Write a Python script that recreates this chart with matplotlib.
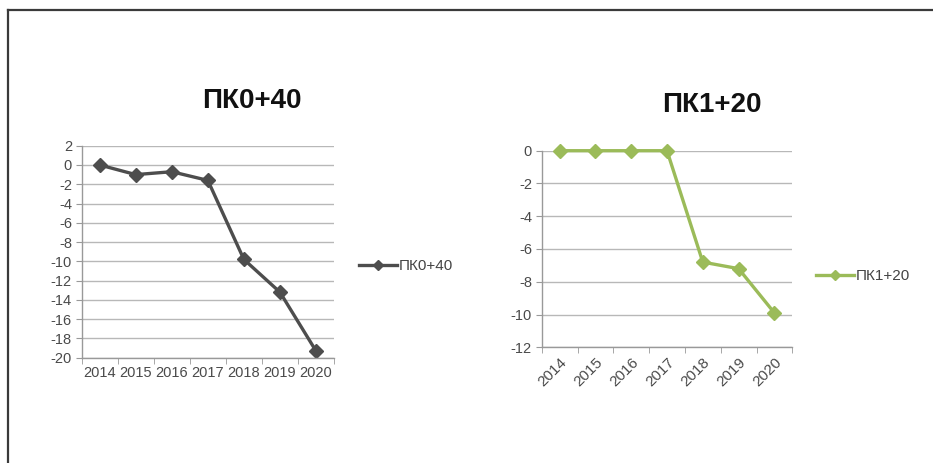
import matplotlib
matplotlib.use("Agg")
import matplotlib.pyplot as plt
from matplotlib.lines import Line2D
import numpy as np

plt.rcParams['font.family'] = ['Liberation Sans', 'DejaVu Sans']

years = ["2014", "2015", "2016", "2017", "2018", "2019", "2020"]
pk040_values = [0.0, -1.0, -0.7, -1.6, -9.8, -13.2, -19.3]
pk120_values = [0.0, 0.0, 0.0, 0.0, -6.8, -7.2, -9.9]

pk040_ticks = list(range(2, -21, -2))
pk120_ticks = list(range(0, -13, -2))

W, H = 933, 463
fig = plt.figure(figsize=(W / 100, H / 100), dpi=100)
fig.patch.set_facecolor("white")

# outer frame: top and left edges
fig.add_artist(Line2D([8 / W, 1.0], [1 - 10 / H, 1 - 10 / H], color="#3a3a3a", lw=1.6))
fig.add_artist(Line2D([8 / W, 8 / W], [0.0, 1 - 10 / H], color="#3a3a3a", lw=1.6))

tick_color = "#4a4a4a"
grid_color = "#b8b8b8"


def px_axes(x0, x1, y0, y1):
    return fig.add_axes([x0 / W, 1 - y1 / H, (x1 - x0) / W, (y1 - y0) / H])


def style_axes(ax, yticks, rotate):
    n = len(years)
    x = np.arange(n)
    ax.set_xlim(-0.5, n - 0.5)
    ax.set_ylim(min(yticks), max(yticks))
    ax.set_yticks(yticks)
    ax.set_yticklabels([str(t) for t in yticks], fontsize=10.5, color=tick_color)
    ax.set_xticks(x)
    if rotate:
        ax.set_xticklabels(years, fontsize=11, color=tick_color, rotation=45,
                           ha="right", va="top", rotation_mode="anchor")
    else:
        ax.set_xticklabels(years, fontsize=10.5, color=tick_color)
    ax.set_xticks(np.arange(-0.5, n, 1.0), minor=True)
    ax.tick_params(axis="x", which="major", length=0, pad=6)
    ax.tick_params(axis="x", which="minor", length=4, color="#999999", direction="out")
    ax.tick_params(axis="y", length=4, color="#999999", direction="out", pad=3)
    ax.yaxis.grid(True, color=grid_color, lw=1.0)
    ax.set_axisbelow(True)
    for s in ("top", "right"):
        ax.spines[s].set_visible(False)
    for s in ("left", "bottom"):
        ax.spines[s].set_color("#999999")
        ax.spines[s].set_linewidth(1.0)
    return x


# left chart
ax1 = px_axes(81.7, 334, 145.7, 357.7)
x1 = style_axes(ax1, pk040_ticks, rotate=False)
l1, = ax1.plot(x1, pk040_values, color="#4d4d4d", lw=2.4, marker="D",
               markersize=7, label="ПК0+40", clip_on=False)
fig.text(252 / W, 1 - 101 / H, "ПК0+40", fontsize=20, fontweight="bold",
         ha="center", va="center", color="#111111")
fig.legend(handles=[l1], loc="center left",
           bbox_to_anchor=(359 / W, 1 - 266 / H), frameon=False,
           fontsize=11, handlelength=2.5, handletextpad=0.1,
           borderaxespad=0, borderpad=0, labelcolor="#444444", markerscale=0.8)

# right chart
ax2 = px_axes(541.7, 792.3, 150.7, 347.3)
x2 = style_axes(ax2, pk120_ticks, rotate=True)
l2, = ax2.plot(x2, pk120_values, color="#9bbb59", lw=2.4, marker="D",
               markersize=7, label="ПК1+20", clip_on=False)
fig.text(712 / W, 1 - 105 / H, "ПК1+20", fontsize=20, fontweight="bold",
         ha="center", va="center", color="#111111")
fig.legend(handles=[l2], loc="center left",
           bbox_to_anchor=(816 / W, 1 - 276 / H), frameon=False,
           fontsize=11, handlelength=2.5, handletextpad=0.1,
           borderaxespad=0, borderpad=0, labelcolor="#444444", markerscale=0.8)

fig.savefig("out.png", dpi=100)
